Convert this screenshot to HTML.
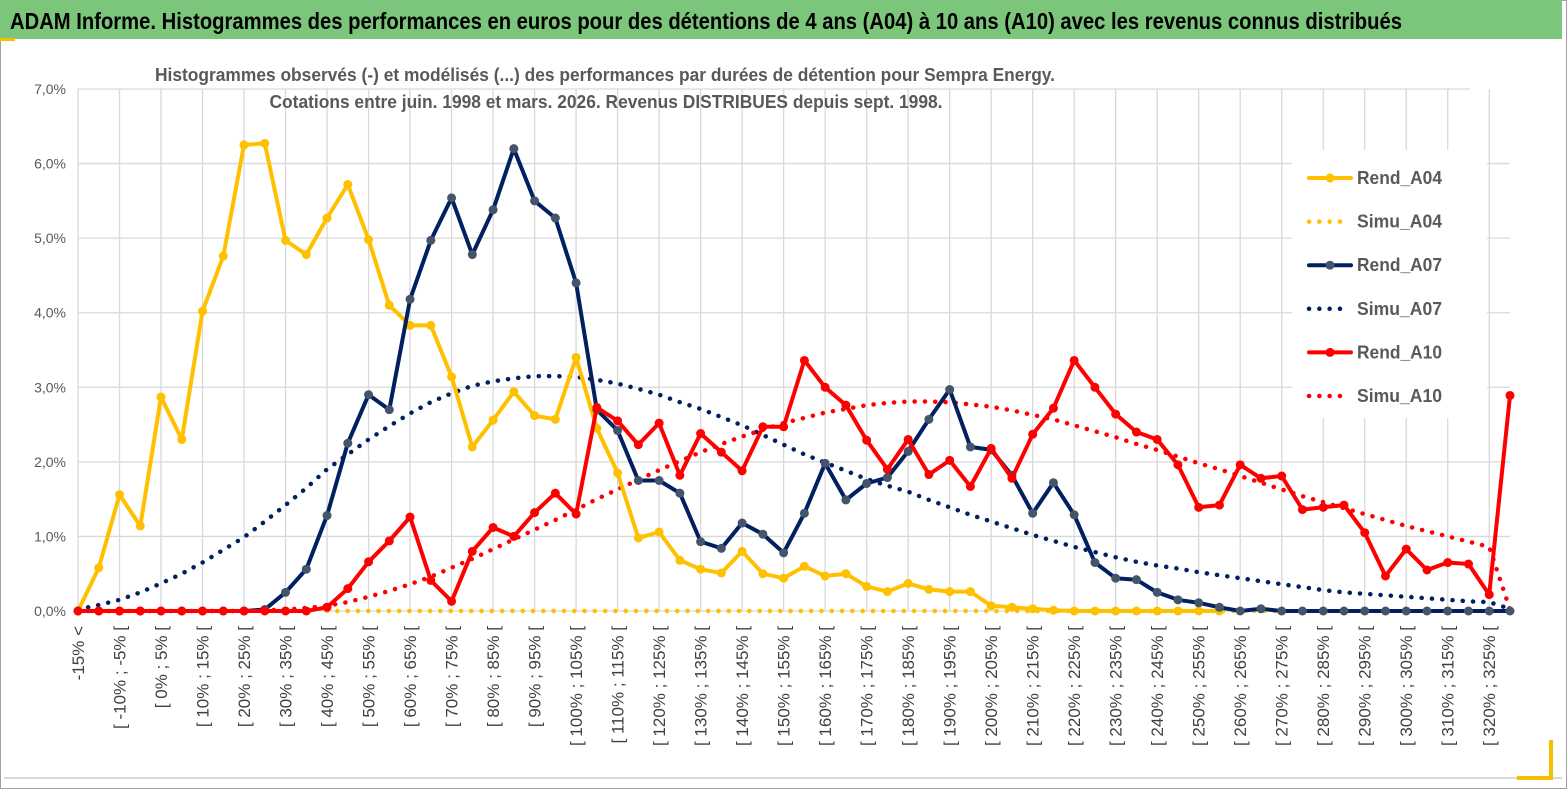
<!DOCTYPE html>
<html><head><meta charset="utf-8"><style>
html,body{margin:0;padding:0;background:#fff;}
svg{display:block;font-family:"Liberation Sans",sans-serif;}
</style></head><body>
<svg id="chart" width="1567" height="789" viewBox="0 0 1567 789" xmlns="http://www.w3.org/2000/svg">
<rect x="0.5" y="0.5" width="1566" height="788" fill="#fff" stroke="#a0a0a0"/>
<rect x="0" y="0" width="1562" height="39" fill="#7cc67c"/>
<rect x="0" y="38" width="15" height="3" fill="#f5c000"/>
<text x="10" y="29" font-size="23" font-weight="bold" fill="#000" textLength="1392" lengthAdjust="spacingAndGlyphs">ADAM Informe. Histogrammes des performances en euros pour des détentions de 4 ans (A04) à 10 ans (A10) avec les revenus connus distribués</text>
<line x1="4" y1="778" x2="1562" y2="778" stroke="#d9d9d9" stroke-width="2"/>
<rect x="1549" y="740" width="4" height="40" fill="#f5c000"/>
<rect x="1517" y="776" width="36" height="4" fill="#f5c000"/>
<g id="grid"></g>
<g id="yticks"></g>
<g id="xticks"></g>
<rect x="1292" y="150" width="195" height="268" fill="#fff"/>
<g id="series"></g>
<text x="605" y="81" font-size="18" font-weight="bold" fill="#595959" text-anchor="middle" textLength="900" lengthAdjust="spacingAndGlyphs">Histogrammes observés (-)  et modélisés (...) des performances par durées de détention pour Sempra Energy.</text>
<text x="606" y="108" font-size="18" font-weight="bold" fill="#595959" text-anchor="middle" textLength="673" lengthAdjust="spacingAndGlyphs">Cotations entre juin. 1998 et mars. 2026. Revenus DISTRIBUES depuis sept. 1998.</text>
<g id="legend"></g>
</svg>
<script>
const categories = [];
categories.push("-15% <");
for (let a = -15; a <= 325; a += 5) categories.push("[ " + a + "% ; " + (a + 5) + "% [");
const yTicks = [0,1,2,3,4,5,6,7];
const yTickLabels = ["0,0%","1,0%","2,0%","3,0%","4,0%","5,0%","6,0%","7,0%"];
const rendA04 = [0,0.58,1.56,1.14,2.87,2.30,4.02,4.76,6.25,6.27,4.97,4.78,5.27,5.72,4.98,4.10,3.83,3.83,3.14,2.20,2.56,2.94,2.62,2.57,3.40,2.45,1.85,0.98,1.06,0.68,0.56,0.51,0.80,0.50,0.44,0.60,0.47,0.50,0.33,0.26,0.37,0.29,0.26,0.26,0.07,0.05,0.03,0.01,0,0,0,0,0,0,0,0,null,null,null,null,null,null,null,null,null,null,null,null,null,null];
const simuA04 = [null,null,null,null,null,null,null,null,null,null,null,null,0,0,0,0,0,0,0,0,0,0,0,0,0,0,0,0,0,0,0,0,0,0,0,0,0,0,0,0,0,0,0,0,0,0,0,0,0,0,0,0,0,0,0,0,0,0,0,null,null,null,null,null,null,null,null,null,null,null];
const rendA07 = [0,0,0,0,0,0,0,0,0,0.02,0.25,0.56,1.28,2.25,2.90,2.70,4.18,4.97,5.54,4.78,5.38,6.20,5.50,5.27,4.40,2.70,2.42,1.75,1.75,1.58,0.93,0.84,1.18,1.03,0.78,1.31,1.98,1.49,1.71,1.79,2.14,2.57,2.97,2.20,2.16,1.82,1.31,1.72,1.29,0.65,0.44,0.42,0.25,0.15,0.11,0.05,0,0.03,0,0,0,0,0,0,0,0,0,0,0,0];
const simuA07 = [0.02,0.08,0.15,0.25,0.37,0.5,0.65,0.82,0.99,1.2,1.42,1.65,1.9,2.1,2.3,2.48,2.65,2.8,2.92,3.02,3.08,3.12,3.15,3.15,3.14,3.1,3.05,2.98,2.9,2.8,2.71,2.6,2.49,2.36,2.23,2.1,1.99,1.88,1.77,1.68,1.6,1.49,1.39,1.29,1.2,1.11,1.02,0.94,0.86,0.79,0.72,0.66,0.61,0.57,0.52,0.48,0.44,0.4,0.36,0.32,0.28,0.25,0.23,0.21,0.19,0.17,0.15,0.13,0.12,0.03];
const rendA10 = [0,0,0,0,0,0,0,0,0,0,0,0,0.05,0.3,0.66,0.94,1.26,0.41,0.13,0.80,1.12,1.0,1.32,1.58,1.30,2.73,2.55,2.23,2.52,1.82,2.38,2.13,1.88,2.47,2.47,3.36,3.0,2.76,2.29,1.9,2.30,1.83,2.02,1.67,2.18,1.78,2.37,2.72,3.36,3.0,2.64,2.40,2.30,1.96,1.39,1.42,1.96,1.78,1.81,1.36,1.39,1.42,1.05,0.47,0.83,0.55,0.65,0.63,0.22,2.89];
const simuA10 = [0,0,0,0,0,0,0,0,0,0.01,0.02,0.04,0.07,0.12,0.19,0.27,0.36,0.46,0.58,0.7,0.83,0.96,1.09,1.22,1.36,1.5,1.63,1.76,1.89,2.01,2.13,2.24,2.34,2.43,2.52,2.59,2.66,2.71,2.76,2.79,2.81,2.81,2.8,2.77,2.74,2.69,2.63,2.57,2.49,2.41,2.33,2.24,2.16,2.07,1.98,1.9,1.81,1.72,1.63,1.54,1.46,1.38,1.3,1.22,1.14,1.07,1.0,0.93,0.86,0.02];
const seriesNames = ["Rend_A04","Simu_A04","Rend_A07","Simu_A07","Rend_A10","Simu_A10"];

const NS = "http://www.w3.org/2000/svg";
const X0 = 78, X1 = 1510, Y0 = 611, Y7 = 89, YMAX = 7;
const xScale = i => X0 + i * (X1 - X0) / (categories.length - 1);
const yScale = v => Y0 - v * (Y0 - Y7) / YMAX;
function mk(tag, attrs, parent) { const e = document.createElementNS(NS, tag); for (const k in attrs) e.setAttribute(k, attrs[k]); parent.appendChild(e); return e; }

const grid = document.getElementById("grid");
yTicks.forEach((t, k) => {
  const l = mk("line", {x1: X0, x2: t === 7 ? 1470 : X1, y1: yScale(t), y2: yScale(t), stroke: "#d9d9d9", "stroke-width": 1.3}, grid);
  
  
  const tx = mk("text", {x: 66, y: yScale(t) + 5, "font-size": 14, fill: "#595959", "text-anchor": "end"}, document.getElementById("yticks"));
  tx.textContent = yTickLabels[k];
  
  
});
for (let i = 0; i < categories.length; i += 2) {
  const x = xScale(i);
  const l = mk("line", {x1: x, x2: x, y1: Y7, y2: Y0, stroke: "#d9d9d9", "stroke-width": 1.3}, grid);
  
  
  const tx = mk("text", {x: 0, y: 0, "font-size": 17, fill: "#404040", "text-anchor": "end", transform: "translate(" + (x + 6) + ",626) rotate(-90)"}, document.getElementById("xticks"));
  tx.textContent = categories[i];
  
  
}

const sg = document.getElementById("series");
function drawLine(data, color, dotted, marker, name) {
  const g = mk("g", {}, sg);
  
  
  let d = "", pen = false;
  data.forEach((v, i) => { if (v === null) { pen = false; return; } d += (pen ? "L" : "M") + xScale(i).toFixed(1) + "," + yScale(v).toFixed(1); pen = true; });
  const p = mk("path", {d: d, fill: "none", stroke: color, "stroke-width": dotted ? 4.5 : 4, "stroke-linejoin": "round", "stroke-linecap": "round"}, g);
  if (dotted) p.setAttribute("stroke-dasharray", "0.1 10.2");
  
  
  if (marker) data.forEach((v, i) => {
    if (v === null) return;
    const c = mk("circle", {cx: xScale(i), cy: yScale(v), r: 4.5, fill: marker}, g);
    
    
  });
}
drawLine(simuA04, "#ffc000", true, null, "simu-a04");
drawLine(simuA07, "#002060", true, null, "simu-a07");
drawLine(simuA10, "#ff0000", true, null, "simu-a10");
drawLine(rendA04, "#ffc000", false, "#ffc000", "rend-a04");
drawLine(rendA07, "#002060", false, "#44546a", "rend-a07");
drawLine(rendA10, "#ff0000", false, "#ff0000", "rend-a10");

const lg = document.getElementById("legend");
const legColors = ["#ffc000","#ffc000","#002060","#002060","#ff0000","#ff0000"];
const legMarker = ["#ffc000",null,"#44546a",null,"#ff0000",null];
seriesNames.forEach((n, k) => {
  const y = 178 + k * 43.6;
  const g = mk("g", {}, lg);
  
  
  if (k % 2 === 0) {
    mk("line", {x1: 1309, x2: 1351, y1: y, y2: y, stroke: legColors[k], "stroke-width": 4, "stroke-linecap": "round"}, g);
    mk("circle", {cx: 1330, cy: y, r: 4.5, fill: legMarker[k]}, g);
  } else {
    mk("line", {x1: 1309, x2: 1345, y1: y, y2: y, stroke: legColors[k], "stroke-width": 4.5, "stroke-linecap": "round", "stroke-dasharray": "0.1 10.2"}, g);
  }
  const t = mk("text", {x: 1357, y: y + 6, "font-size": 18, "font-weight": "bold", fill: "#595959", textLength: 85, lengthAdjust: "spacingAndGlyphs"}, g);
  t.textContent = n;
});
</script>
</body></html>
